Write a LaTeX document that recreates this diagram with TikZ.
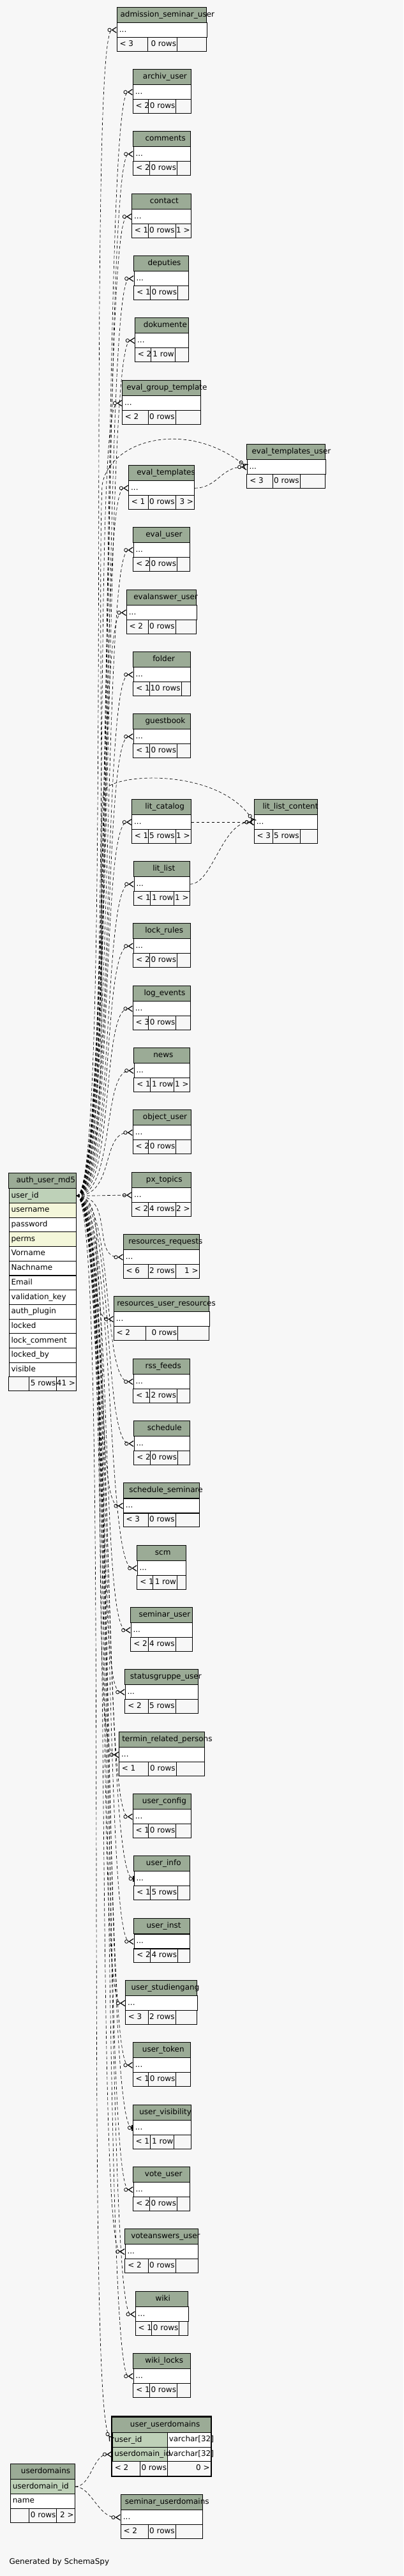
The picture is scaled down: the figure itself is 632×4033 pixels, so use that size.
\documentclass[tikz,border=0pt]{standalone}
\usepackage{fontspec}
\setmainfont{DejaVu Sans}
\usetikzlibrary{arrows.meta}
\definecolor{bgcol}{HTML}{F7F7F7}
\definecolor{headcol}{HTML}{9BAB96}
\definecolor{keycol}{HTML}{BED1B8}
\definecolor{idxcol}{HTML}{F4F7DA}
\tikzset{
  cell/.style={draw,line width=0.6pt},
  txt/.style={inner xsep=0.75pt,inner ysep=0pt,text height=6.6pt,text depth=1.9pt},
  colrow/.style={draw,line width=0.6pt,fill=white,inner xsep=2.6pt,inner ysep=0pt,
    minimum height=17.25pt,align=left,text height=6.6pt,text depth=1.9pt},
  fk/.style={line width=0.5pt,dash pattern=on 3.5pt off 2.5pt,
    -{Circle[open,length=4.6pt,width=4.6pt,line width=0.6pt]Straight Barb[reversed,length=5pt,width=6.5pt,line width=0.9pt]}},
  fkone/.style={fk,-{Circle[open,length=4.6pt,width=4.6pt,line width=0.6pt]Bar[width=7pt,line width=1.4pt]}}
}
\begin{document}
\begin{tikzpicture}[x=0.75pt,y=-0.75pt,font=\fontsize{9}{10}\selectfont]
  \useasboundingbox (0,0) rectangle (632,4033);
  \fill[bgcol] (0,0) rectangle (632,4033);
  \foreach \nm/\ttl/\xa/\ya/\xb/\da/\db/\lt/\nr/\gt/\tx in {
    adm/admission\_seminar\_user/183/11/323.7/231/277.3/{< 3}/{0 rows}/{}/187.3,
    archiv/archiv\_user/208/108.3/299/232.7/275.7/{< 2}/{0 rows}/{}/222.7,
    comments/comments/208.7/205.3/298/234.3/277.3/{< 2}/{0 rows}/{}/226.3,
    contact/contact/206.3/303.3/299/232/275/{< 1}/{0 rows}/{1 >}/233.7,
    deputies/deputies/209.7/400.3/295.3/235.3/278.3/{< 1}/{0 rows}/{}/230.3,
    dokumente/dokumente/211.3/497.3/295.3/236/274/{< 2}/{1 row}/{}/223.7,
    evgroup/eval\_group\_template/191.3/595.3/314.3/232/275/{< 2}/{0 rows}/{}/197,
    etu/eval\_templates\_user/386.7/695.3/509.7/427.3/470/{< 3}/{0 rows}/{}/393.3,
    evtempl/eval\_templates/201.3/728.3/304.3/232/275/{< 1}/{0 rows}/{3 >}/213,
    evuser/eval\_user/208.7/825.3/297/234.3/277.3/{< 2}/{0 rows}/{}/227,
    evanswer/evalanswer\_user/198/923.3/307.7/232/275/{< 2}/{0 rows}/{}/208,
    folder/folder/208.7/1020.3/298/234.3/284/{< 1}/{10 rows}/{}/238,
    guestbook/guestbook/208.7/1117.3/298/234.3/277.3/{< 1}/{0 rows}/{}/226.3,
    litcat/lit\_catalog/206.3/1251.3/299/232/275/{< 1}/{5 rows}/{1 >}/226,
    llc/lit\_list\_content/398/1251.3/497.3/427.3/470/{< 3}/{5 rows}/{}/410.3,
    litlist/lit\_list/209.7/1348.3/297/235.3/272.7/{< 1}/{1 row}/{1 >}/238,
    lockrules/lock\_rules/208.7/1445.3/298/234.3/277.3/{< 2}/{0 rows}/{}/226,
    logevents/log\_events/208/1543.3/298/232.7/275.7/{< 3}/{0 rows}/{}/224.3,
    news/news/209.7/1640.3/297/235.3/272.7/{< 1}/{1 row}/{1 >}/239,
    objuser/object\_user/208/1737.3/299/232.7/275.7/{< 2}/{0 rows}/{}/222.7,
    pxtopics/px\_topics/206.3/1835.3/299/232/275/{< 2}/{4 rows}/{2 >}/227.7,
    resreq/resources\_requests/193/1932.3/312/232/275/{< 6}/{2 rows}/{1 >}/200,
    resuser/resources\_user\_resources/178/2029.3/327.7/228.7/278.3/{< 2}/{0 rows}/{}/182,
    rss/rss\_feeds/208.7/2127.3/297/234.3/277.3/{< 1}/{2 rows}/{}/226.3,
    schedule/schedule/209.7/2224.3/297/235.3/278.3/{< 2}/{0 rows}/{}/229.7,
    schedsem/schedule\_seminare/193/2321.7/312/232/275/{< 3}/{0 rows}/{}/201,
    scm/scm/214.7/2419.3/291.3/239.3/277.3/{< 1}/{1 row}/{}/241.7,
    semuser/seminar\_user/204.7/2516.3/301.3/232/275/{< 2}/{4 rows}/{}/216.3,
    statusgr/statusgruppe\_user/195.7/2613.3/310.3/232/275/{< 2}/{5 rows}/{}/202.7,
    termin/termin\_related\_persons/186.3/2711.3/320.3/232/276/{< 1}/{0 rows}/{}/190,
    uconfig/user\_config/208/2808.3/299/232.7/275.7/{< 1}/{0 rows}/{}/221.7,
    uinfo/user\_info/209.7/2905.3/297/235.3/278.3/{< 1}/{5 rows}/{}/227.7,
    uinst/user\_inst/209.7/3003.7/297/235.3/278.3/{< 2}/{4 rows}/{}/228.3,
    ustudien/user\_studiengang/196.3/3100.3/308.7/232/275/{< 3}/{2 rows}/{}/204.3,
    utoken/user\_token/208/3197.3/298/232.7/275.7/{< 1}/{0 rows}/{}/221.7,
    uvisib/user\_visibility/208/3295.3/299/235.3/272.7/{< 1}/{1 row}/{}/217,
    voteuser/vote\_user/208.7/3392.3/297/234.3/277.3/{< 2}/{0 rows}/{}/225.7,
    voteans/voteanswers\_user/195.7/3489.3/310.3/232/275/{< 2}/{0 rows}/{}/204,
    wiki/wiki/212/3587.3/294.7/237.7/280.7/{< 1}/{0 rows}/{}/242.3,
    wikilocks/wiki\_locks/208.7/3684.3/298/234.3/277.3/{< 1}/{0 rows}/{}/226,
    semud/seminar\_userdomains/189/3905.3/317/232/275/{< 2}/{0 rows}/{}/194.7}{
    \pgfmathsetmacro\tw{(\xb-\xa)*0.75-5.2}
    \filldraw[cell,fill=headcol] (\xa,\ya) rectangle (\xb,\ya+24);
    \node[txt,anchor=west] at (\tx,\ya+12) {\ttl};
    \node[colrow,text width=\tw pt,anchor=north west] (\nm) at (\xa,\ya+24) {...};
    \draw[cell] (\xa,\ya+47) rectangle (\xb,\ya+69) (\da,\ya+47) -- (\da,\ya+69) (\db,\ya+47) -- (\db,\ya+69);
    \node[txt,anchor=west] at (\xa+3.3,\ya+58) {\lt};
    \node[txt,anchor=east] at (\db,\ya+58) {\nr};
    \node[txt,anchor=east] at (\xb,\ya+58) {\gt};
  }
  \filldraw[cell,fill=headcol] (13.7,1836.3) rectangle (119.3,1860.3);
  \node[txt,anchor=west] (authtitle) at (24.3,1848.3) {auth\_user\_md5};
  \node[colrow,fill=keycol,minimum height=17pt,text width=74pt,anchor=north west] (uid) at (13.7,1860.3) {user\_id};
  \foreach \col/\fc [count=\i] in {username/idxcol,password/white,perms/idxcol,Vorname/white,Nachname/white,Email/white,validation\_key/white,auth\_plugin/white,locked/white,lock\_comment/white,locked\_by/white,visible/white}
    \node[colrow,fill=\fc,minimum height=17pt,text width=74pt,anchor=north west] (au\i) at (13.7,1860.3+22.7*\i) {\col};
  \draw[cell] (13.7,2155.4) rectangle (119.3,2177) (45.7,2155.4) -- (45.7,2177) (88.7,2155.4) -- (88.7,2177);
  \node[txt,anchor=east] at (88.7,2166.2) {5 rows};
  \node[txt,anchor=east] at (119.3,2166.2) {41 >};
  \filldraw[cell,fill=headcol] (16,3857.3) rectangle (117,3881.3);
  \node[txt,anchor=west] (udtitle) at (31.7,3869.3) {userdomains};
  \node[colrow,fill=keycol,minimum height=17pt,text width=70.55pt,anchor=north west] (udid) at (16,3881.3) {userdomain\_id};
  \node[colrow,minimum height=17pt,text width=70.55pt,anchor=north west] (udname) at (16,3904) {name};
  \draw[cell] (16,3927) rectangle (117,3949.3) (45.7,3927) -- (45.7,3949.3) (88.7,3927) -- (88.7,3949.3);
  \node[txt,anchor=east] at (88.7,3938.2) {0 rows};
  \node[txt,anchor=east] at (117,3938.2) {2 >};
  \filldraw[cell,fill=headcol] (175.5,3784.5) rectangle (330,3808.3);
  \node[txt,anchor=west] (uudtitle) at (202.7,3796.4) {user\_userdomains};
  \filldraw[cell,fill=white] (262.3,3808.3) rectangle (330,3853.3) (262.3,3831) -- (330,3831);
  \node[colrow,fill=keycol,minimum height=17pt,text width=59.9pt,anchor=north west] (uuduid) at (175.5,3808.3) {user\_id};
  \node[colrow,fill=keycol,minimum height=16.7pt,text width=59.9pt,anchor=north west] (uuddid) at (175.5,3831) {userdomain\_id};
  \node[txt,anchor=west] at (263.5,3819.7) {varchar[32]};
  \node[txt,anchor=west] at (263.5,3842.2) {varchar[32]};
  \draw[cell] (175.5,3853.3) rectangle (330,3876) (219.3,3853.3) -- (219.3,3876) (262.3,3853.3) -- (262.3,3876);
  \node[txt,anchor=west] at (178.5,3864.7) {< 2};
  \node[txt,anchor=east] at (262.3,3864.7) {0 rows};
  \node[txt,anchor=east] at (330,3864.7) {0 >};
  \draw[line width=1.6pt] (174.6,3782.6) rectangle (330.9,3877);
  \node[txt,anchor=west] (credit) at (13.3,4011) {Generated by SchemaSpy};
  \foreach \nm in {adm,archiv,comments,contact,deputies,dokumente,evgroup,evtempl,evuser,evanswer,folder,guestbook,litcat,litlist,lockrules,logevents,news,objuser,pxtopics,resreq,resuser,rss,schedule,schedsem,scm,semuser,statusgr,termin,uconfig,uinst,ustudien,utoken,voteuser,voteans,wiki,wikilocks}
    \draw[fk] (uid.east) .. controls +(60,0) and +(-50,0) .. (\nm.west);
  \foreach \nm in {uinfo,uvisib}
    \draw[fkone] (uid.east) .. controls +(60,0) and +(-50,0) .. (\nm.west);
  \draw[fk] (uid.east) .. controls +(60,0) and (150,1000) .. (160,760) .. controls (170,690) and (290,655) .. (etu.west);
  \draw[fk] (evtempl.east) .. controls +(35,0) and +(-40,0) .. (etu.west);
  \draw[fk] (uid.east) .. controls +(60,0) and (150,1350) .. (162,1240) .. controls (170,1210) and (340,1200) .. (llc.west);
  \draw[fk] (litcat.east) -- (llc.west);
  \draw[fk] (litlist.east) .. controls +(35,0) and +(-50,0) .. (llc.west);
  \draw[fk] (uid.east) .. controls +(55,0) and (130,3760) .. (uuduid.west);
  \draw[fk] (udid.east) .. controls +(25,0) and +(-30,0) .. (uuddid.west);
  \draw[fk] (udid.east) .. controls +(25,0) and +(-35,0) .. (semud.west);
\end{tikzpicture}
\end{document}
